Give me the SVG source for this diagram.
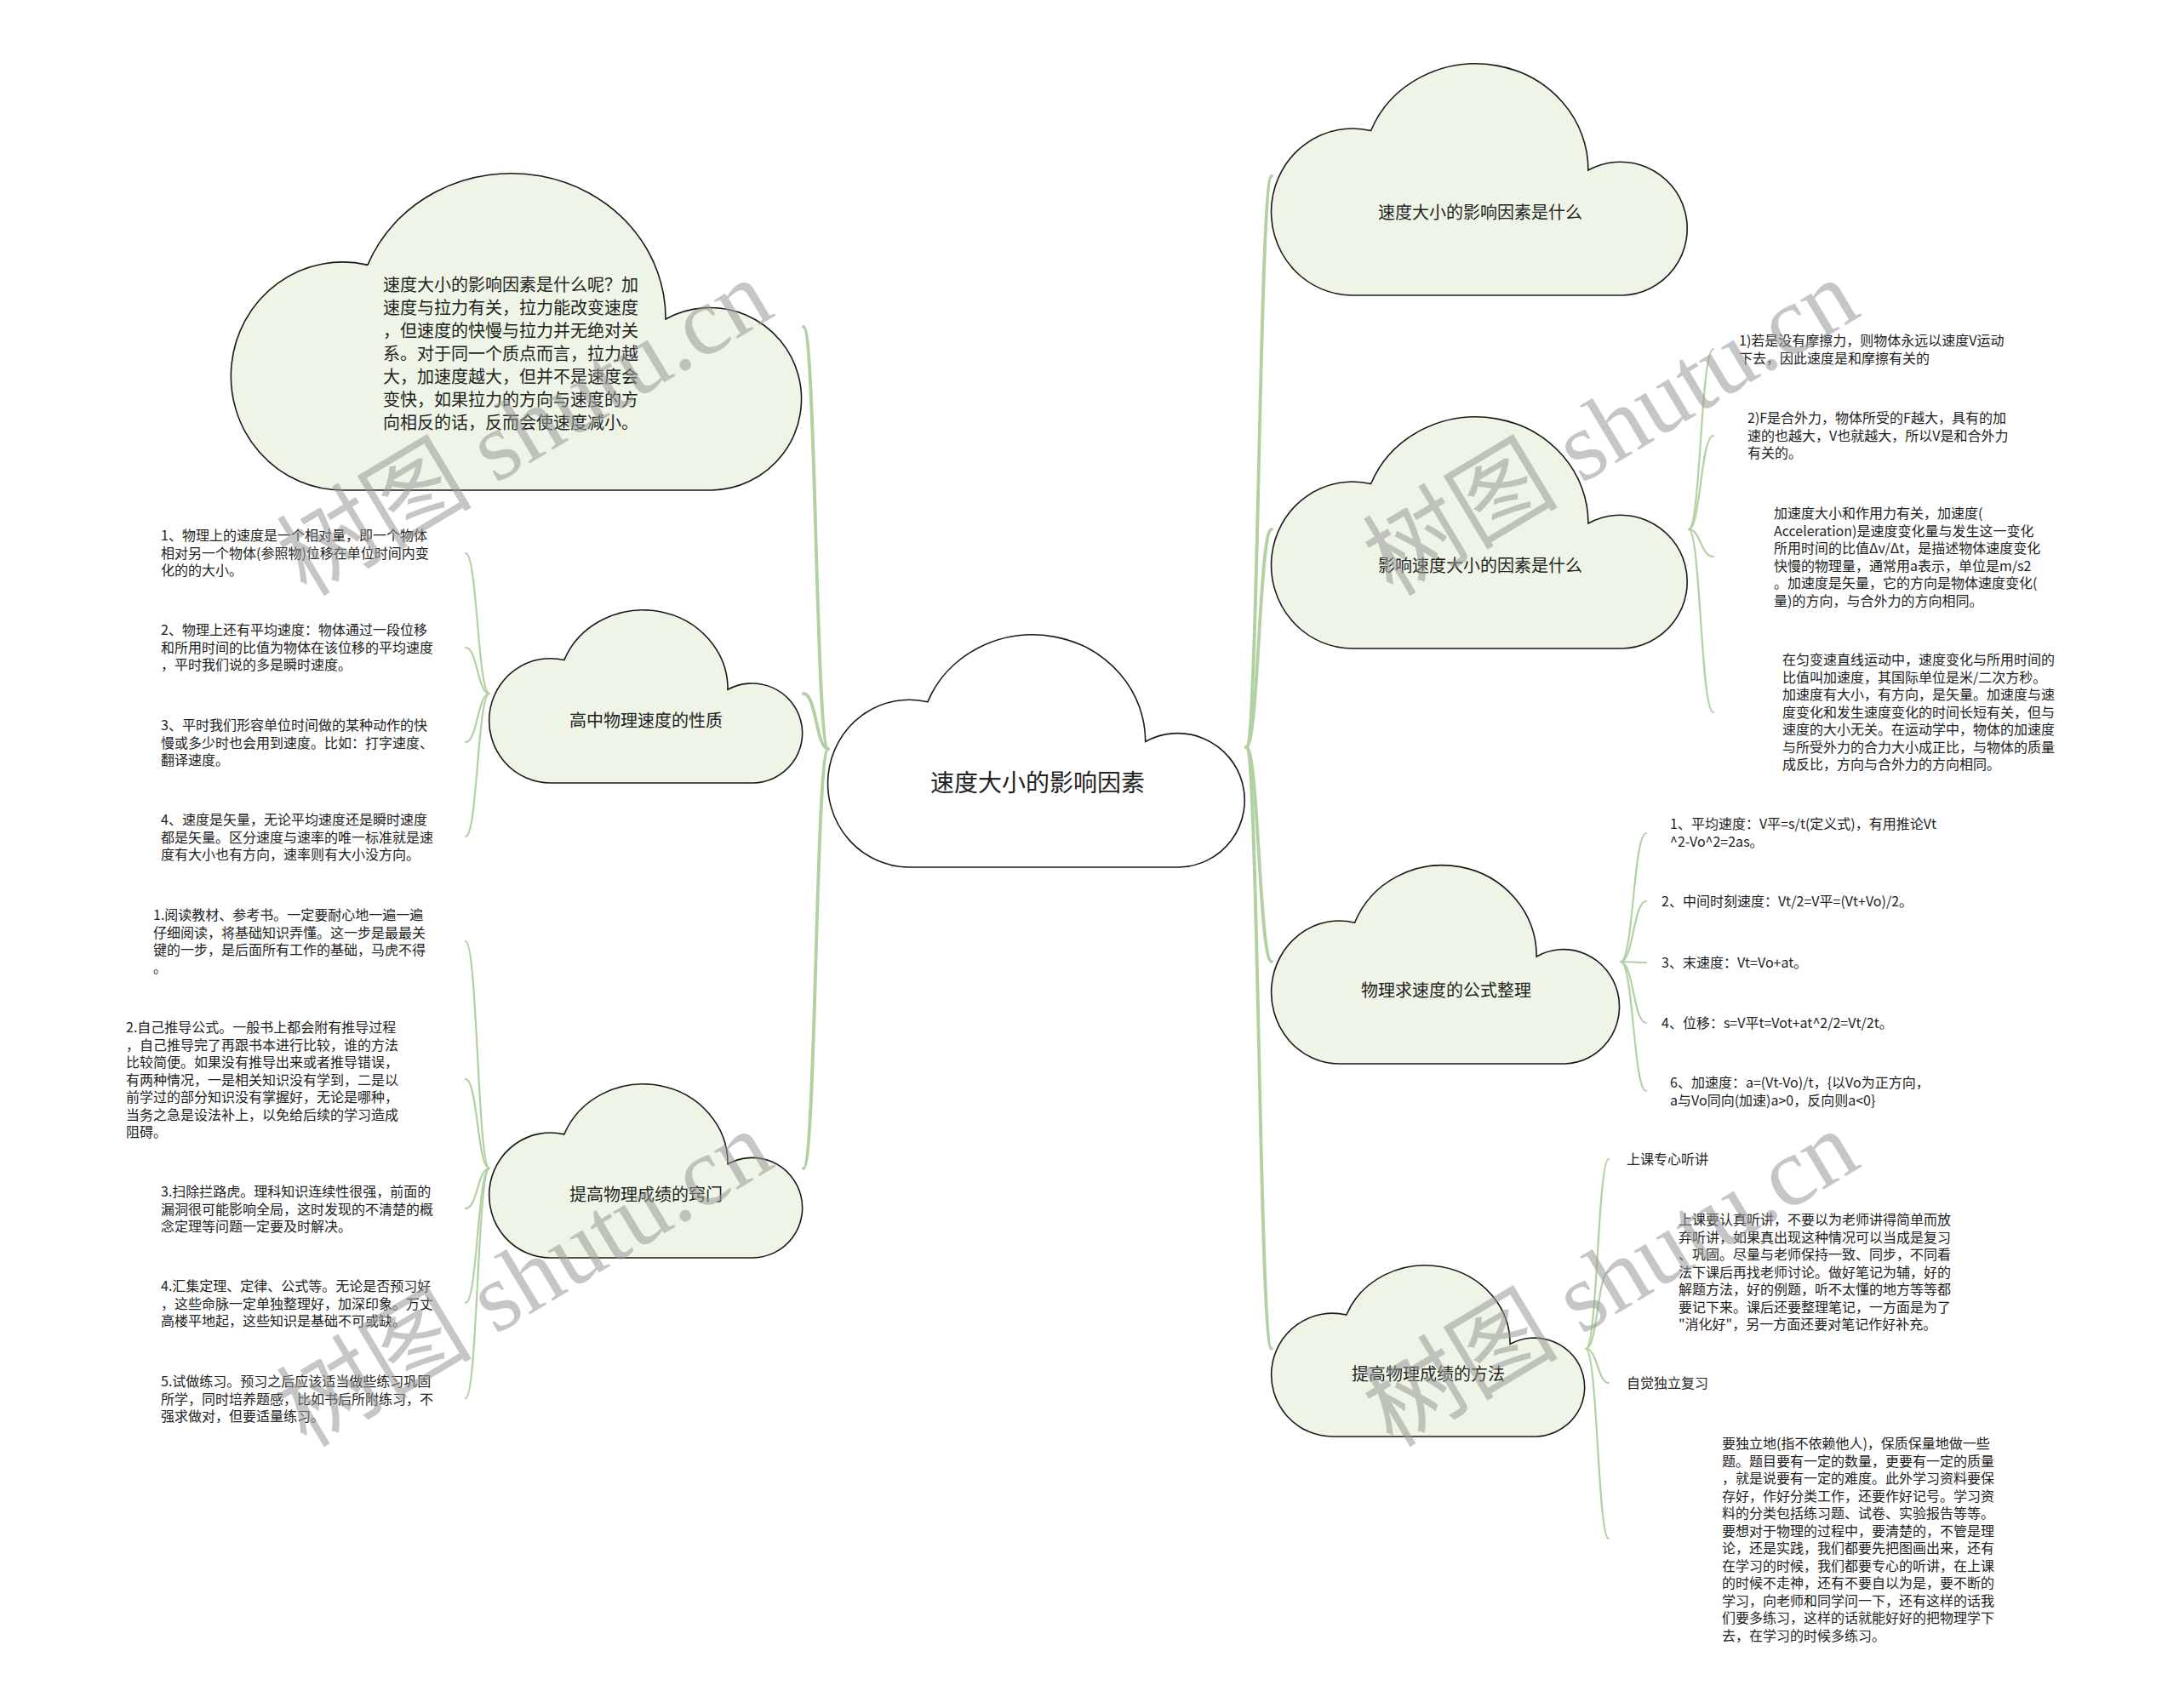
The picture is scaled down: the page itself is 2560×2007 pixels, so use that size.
<svg xmlns="http://www.w3.org/2000/svg" xmlns:xlink="http://www.w3.org/1999/xlink" width="2560" height="2007" viewBox="0 0 2560 2007">
<style>
.c{fill:#eef5e6;stroke:#1a1a1a;stroke-width:1.6}
.cw{fill:#ffffff;stroke:#1a1a1a;stroke-width:1.6}
.m{fill:none;stroke:#b2d1a3;stroke-width:3.8;stroke-linecap:round}
.l{fill:none;stroke:#b2d1a3;stroke-width:2.2;stroke-linecap:round}
.t{font-family:"Noto Sans CJK SC",sans-serif;font-size:16px;fill:#222}
.n{font-family:"Noto Sans CJK SC",sans-serif;font-size:20px;fill:#222;text-anchor:middle}
.wm{font-family:"Liberation Serif","Noto Sans CJK SC",serif;font-size:115px;fill:#999999;opacity:0.55}
</style>
<defs>
<path id="cloud" vector-effect="non-scaling-stroke" d="M19.5,100 A19.5,35 0 1 1 23.8,30.9 A27,44.5 0 0 1 75.9,47.5 A16,28 0 1 1 84,100 Z"/>
</defs>
<rect width="2560" height="2007" fill="#ffffff"/>

<g id="connectors">
<path class="m" d="M973,880 C958,880 959,384 944,384"/>
<path class="m" d="M973,880 C959,880 959,815 944,815"/>
<path class="m" d="M973,880 C958,880 959,1373 944,1373"/>
<path class="m" d="M1464,878 C1479,878 1479,207 1494,207"/>
<path class="m" d="M1464,878 C1479,878 1479,622 1494,622"/>
<path class="m" d="M1464,878 C1479,878 1479,1130 1494,1130"/>
<path class="m" d="M1464,878 C1479,878 1479,1585 1494,1585"/>
<path class="l" d="M575,815 C561,815 561,650 547,650"/>
<path class="l" d="M575,815 C561,815 561,761 547,761"/>
<path class="l" d="M575,815 C561,815 561,872 547,872"/>
<path class="l" d="M575,815 C561,815 561,983 547,983"/>
<path class="l" d="M575,1373 C561,1373 561,1106 547,1106"/>
<path class="l" d="M575,1373 C561,1373 561,1268 547,1268"/>
<path class="l" d="M575,1373 C561,1373 561,1420 547,1420"/>
<path class="l" d="M575,1373 C561,1373 561,1531 547,1531"/>
<path class="l" d="M575,1373 C561,1373 561,1643 547,1643"/>
<path class="l" d="M1984,622 C1998,622 1998,410 2013,410"/>
<path class="l" d="M1984,622 C1998,622 1998,512 2013,512"/>
<path class="l" d="M1984,622 C1998,622 1998,654 2013,654"/>
<path class="l" d="M1984,622 C1998,622 1998,837 2013,837"/>
<path class="l" d="M1904,1130 C1919,1130 1919,979 1934,979"/>
<path class="l" d="M1904,1130 C1919,1130 1919,1059 1934,1059"/>
<path class="l" d="M1904,1130 C1919,1130 1919,1131 1934,1131"/>
<path class="l" d="M1904,1130 C1919,1130 1919,1202 1934,1202"/>
<path class="l" d="M1904,1130 C1919,1130 1919,1282 1934,1282"/>
<path class="l" d="M1863,1585 C1877,1585 1877,1362 1890,1362"/>
<path class="l" d="M1863,1585 C1877,1585 1877,1494 1890,1494"/>
<path class="l" d="M1863,1585 C1877,1585 1877,1625 1890,1625"/>
<path class="l" d="M1863,1585 C1877,1585 1877,1808 1890,1808"/>
</g>

<g id="root">
<use href="#cloud" class="cw" transform="translate(973,738) scale(4.91,2.81)"/>
<text x="1219" y="930" font-family="Noto Sans CJK SC, sans-serif" font-size="28" fill="#222" text-anchor="middle">速度大小的影响因素</text>
</g>

<g id="n-topleft">
<use href="#cloud" class="c" transform="translate(272,193) scale(6.72,3.83)"/>
<text class="t" style="font-size:20px" x="450" y="342">
<tspan x="450" y="342">速度大小的影响因素是什么呢？加</tspan>
<tspan x="450" y="369">速度与拉力有关，拉力能改变速度</tspan>
<tspan x="450" y="396">，但速度的快慢与拉力并无绝对关</tspan>
<tspan x="450" y="423">系。对于同一个质点而言，拉力越</tspan>
<tspan x="450" y="450">大，加速度越大，但并不是速度会</tspan>
<tspan x="450" y="477">变快，如果拉力的方向与速度的方</tspan>
<tspan x="450" y="504">向相反的话，反而会使速度减小。</tspan>
</text>
</g>

<g id="n-xingzhi">
<use href="#cloud" class="c" transform="translate(575,711) scale(3.69,2.09)"/>
<text class="n" x="759" y="854">高中物理速度的性质</text>
</g>

<g id="n-qiaomen">
<use href="#cloud" class="c" transform="translate(575,1268) scale(3.69,2.10)"/>
<text class="n" x="759" y="1411">提高物理成绩的窍门</text>
</g>

<g id="n-r1">
<use href="#cloud" class="c" transform="translate(1494,67) scale(4.90,2.80)"/>
<text class="n" x="1739" y="257">速度大小的影响因素是什么</text>
</g>

<g id="n-r2">
<use href="#cloud" class="c" transform="translate(1494,482) scale(4.90,2.80)"/>
<text class="n" x="1739" y="672">影响速度大小的因素是什么</text>
</g>

<g id="n-r3">
<use href="#cloud" class="c" transform="translate(1494,1010) scale(4.10,2.40)"/>
<text class="n" x="1699" y="1171">物理求速度的公式整理</text>
</g>

<g id="n-r4">
<use href="#cloud" class="c" transform="translate(1494,1481) scale(3.69,2.07)"/>
<text class="n" x="1678" y="1622">提高物理成绩的方法</text>
</g>

<g id="leaf-a1"><text class="t"><tspan x="189" y="635">1、物理上的速度是一个相对量，即一个物体</tspan><tspan x="189" y="655.5">相对另一个物体(参照物)位移在单位时间内变</tspan><tspan x="189" y="676">化的的大小。</tspan></text></g>
<g id="leaf-a2"><text class="t"><tspan x="189" y="746">2、物理上还有平均速度：物体通过一段位移</tspan><tspan x="189" y="766.5">和所用时间的比值为物体在该位移的平均速度</tspan><tspan x="189" y="787">，平时我们说的多是瞬时速度。</tspan></text></g>
<g id="leaf-a3"><text class="t"><tspan x="189" y="858">3、平时我们形容单位时间做的某种动作的快</tspan><tspan x="189" y="878.5">慢或多少时也会用到速度。比如：打字速度、</tspan><tspan x="189" y="899">翻译速度。</tspan></text></g>
<g id="leaf-a4"><text class="t"><tspan x="189" y="969">4、速度是矢量，无论平均速度还是瞬时速度</tspan><tspan x="189" y="989.5">都是矢量。区分速度与速率的唯一标准就是速</tspan><tspan x="189" y="1010">度有大小也有方向，速率则有大小没方向。</tspan></text></g>

<g id="leaf-b1"><text class="t"><tspan x="180" y="1081">1.阅读教材、参考书。一定要耐心地一遍一遍</tspan><tspan x="180" y="1101.5">仔细阅读，将基础知识弄懂。这一步是最最关</tspan><tspan x="180" y="1122">键的一步，是后面所有工作的基础，马虎不得</tspan><tspan x="180" y="1142.5">。</tspan></text></g>
<g id="leaf-b2"><text class="t"><tspan x="148" y="1213">2.自己推导公式。一般书上都会附有推导过程</tspan><tspan x="148" y="1233.5">，自己推导完了再跟书本进行比较，谁的方法</tspan><tspan x="148" y="1254">比较简便。如果没有推导出来或者推导错误，</tspan><tspan x="148" y="1274.5">有两种情况，一是相关知识没有学到，二是以</tspan><tspan x="148" y="1295">前学过的部分知识没有掌握好，无论是哪种，</tspan><tspan x="148" y="1315.5">当务之急是设法补上，以免给后续的学习造成</tspan><tspan x="148" y="1336">阻碍。</tspan></text></g>
<g id="leaf-b3"><text class="t"><tspan x="189" y="1406">3.扫除拦路虎。理科知识连续性很强，前面的</tspan><tspan x="189" y="1426.5">漏洞很可能影响全局，这时发现的不清楚的概</tspan><tspan x="189" y="1447">念定理等问题一定要及时解决。</tspan></text></g>
<g id="leaf-b4"><text class="t"><tspan x="189" y="1517">4.汇集定理、定律、公式等。无论是否预习好</tspan><tspan x="189" y="1537.5">，这些命脉一定单独整理好，加深印象。万丈</tspan><tspan x="189" y="1558">高楼平地起，这些知识是基础不可或缺。</tspan></text></g>
<g id="leaf-b5"><text class="t"><tspan x="189" y="1629">5.试做练习。预习之后应该适当做些练习巩固</tspan><tspan x="189" y="1649.5">所学，同时培养题感，比如书后所附练习，不</tspan><tspan x="189" y="1670">强求做对，但要适量练习。</tspan></text></g>

<g id="leaf-c1"><text class="t"><tspan x="2043" y="406">1)若是没有摩擦力，则物体永远以速度V运动</tspan><tspan x="2043" y="426.5">下去，因此速度是和摩擦有关的</tspan></text></g>
<g id="leaf-c2"><text class="t"><tspan x="2053" y="497">2)F是合外力，物体所受的F越大，具有的加</tspan><tspan x="2053" y="517.5">速的也越大，V也就越大，所以V是和合外力</tspan><tspan x="2053" y="538">有关的。</tspan></text></g>
<g id="leaf-c3"><text class="t"><tspan x="2084" y="609">加速度大小和作用力有关，加速度(</tspan><tspan x="2084" y="629.5">Acceleration)是速度变化量与发生这一变化</tspan><tspan x="2084" y="650">所用时间的比值Δv/Δt，是描述物体速度变化</tspan><tspan x="2084" y="670.5">快慢的物理量，通常用a表示，单位是m/s2</tspan><tspan x="2084" y="691">。加速度是矢量，它的方向是物体速度变化(</tspan><tspan x="2084" y="711.5">量)的方向，与合外力的方向相同。</tspan></text></g>
<g id="leaf-c4"><text class="t"><tspan x="2094" y="781">在匀变速直线运动中，速度变化与所用时间的</tspan><tspan x="2094" y="801.5">比值叫加速度，其国际单位是米/二次方秒。</tspan><tspan x="2094" y="822">加速度有大小，有方向，是矢量。加速度与速</tspan><tspan x="2094" y="842.5">度变化和发生速度变化的时间长短有关，但与</tspan><tspan x="2094" y="863">速度的大小无关。在运动学中，物体的加速度</tspan><tspan x="2094" y="883.5">与所受外力的合力大小成正比，与物体的质量</tspan><tspan x="2094" y="904">成反比，方向与合外力的方向相同。</tspan></text></g>

<g id="leaf-d1"><text class="t"><tspan x="1962" y="974">1、平均速度：V平=s/t(定义式)，有用推论Vt</tspan><tspan x="1962" y="995">^2-Vo^2=2as。</tspan></text></g>
<g id="leaf-d2"><text class="t" x="1952" y="1065">2、中间时刻速度：Vt/2=V平=(Vt+Vo)/2。</text></g>
<g id="leaf-d3"><text class="t" x="1952" y="1137">3、末速度：Vt=Vo+at。</text></g>
<g id="leaf-d4"><text class="t" x="1952" y="1208">4、位移：s=V平t=Vot+at^2/2=Vt/2t。</text></g>
<g id="leaf-d5"><text class="t"><tspan x="1962" y="1278">6、加速度：a=(Vt-Vo)/t，{以Vo为正方向，</tspan><tspan x="1962" y="1298.5">a与Vo同向(加速)a&gt;0，反向则a&lt;0}</tspan></text></g>

<g id="leaf-e1"><text class="t" x="1911" y="1368">上课专心听讲</text></g>
<g id="leaf-e2"><text class="t"><tspan x="1972" y="1439">上课要认真听讲，不要以为老师讲得简单而放</tspan><tspan x="1972" y="1459.5">弃听讲，如果真出现这种情况可以当成是复习</tspan><tspan x="1972" y="1480">、巩固。尽量与老师保持一致、同步，不同看</tspan><tspan x="1972" y="1500.5">法下课后再找老师讨论。做好笔记为辅，好的</tspan><tspan x="1972" y="1521">解题方法，好的例题，听不太懂的地方等等都</tspan><tspan x="1972" y="1541.5">要记下来。课后还要整理笔记，一方面是为了</tspan><tspan x="1972" y="1562">"消化好"，另一方面还要对笔记作好补充。</tspan></text></g>
<g id="leaf-e3"><text class="t" x="1911" y="1631">自觉独立复习</text></g>
<g id="leaf-e4"><text class="t"><tspan x="2023" y="1702">要独立地(指不依赖他人)，保质保量地做一些</tspan><tspan x="2023" y="1722.5">题。题目要有一定的数量，更要有一定的质量</tspan><tspan x="2023" y="1743">，就是说要有一定的难度。此外学习资料要保</tspan><tspan x="2023" y="1763.5">存好，作好分类工作，还要作好记号。学习资</tspan><tspan x="2023" y="1784">料的分类包括练习题、试卷、实验报告等等。</tspan><tspan x="2023" y="1804.5">要想对于物理的过程中，要清楚的，不管是理</tspan><tspan x="2023" y="1825">论，还是实践，我们都要先把图画出来，还有</tspan><tspan x="2023" y="1845.5">在学习的时候，我们都要专心的听讲，在上课</tspan><tspan x="2023" y="1866">的时候不走神，还有不要自以为是，要不断的</tspan><tspan x="2023" y="1886.5">学习，向老师和同学问一下，还有这样的话我</tspan><tspan x="2023" y="1907">们要多练习，这样的话就能好好的把物理学下</tspan><tspan x="2023" y="1927.5">去，在学习的时候多练习。</tspan></text></g>

<g id="watermark">
<text class="wm" transform="translate(360,702) rotate(-31)">树图 shutu.cn</text>
<text class="wm" transform="translate(1636,702) rotate(-31)">树图 shutu.cn</text>
<text class="wm" transform="translate(360,1702) rotate(-31)">树图 shutu.cn</text>
<text class="wm" transform="translate(1636,1702) rotate(-31)">树图 shutu.cn</text>
</g>
</svg>
